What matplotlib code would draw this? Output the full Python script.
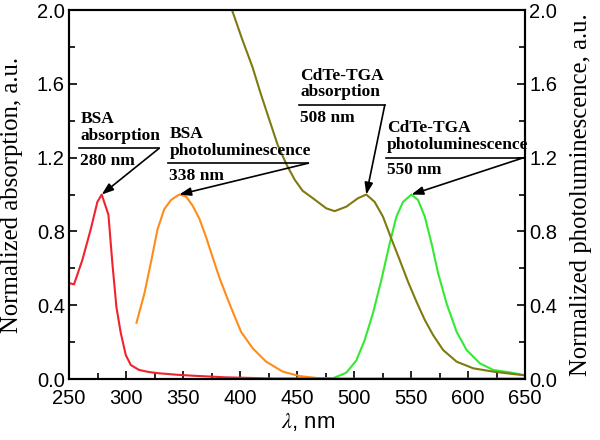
import numpy as np
import matplotlib
matplotlib.use('Agg')
import matplotlib.pyplot as plt

# BSA absorption (red)
bsa_abs_x = [250, 254.4, 261.7, 269, 274.9, 278.7, 284.6, 288, 291.6, 295.4, 299.8, 304.2, 311.5, 320, 329, 345, 358.4, 387.7, 429, 500, 560, 650]
bsa_abs_y = [0.52, 0.513, 0.645, 0.81, 0.96, 1.0, 0.89, 0.63, 0.39, 0.25, 0.13, 0.076, 0.049, 0.038, 0.031, 0.023, 0.018, 0.009, 0.003, 0.002, 0.002, 0.002]

# BSA photoluminescence (orange)
bsa_pl_x = [309.2, 316, 321.8, 327.6, 333.5, 339.4, 346.7, 352.6, 358.4, 364.3, 370.2, 376, 381.9, 387.8, 393.6, 400.9, 411.2, 422.9, 437.5, 452.2, 469.8, 490]
bsa_pl_y = [0.305, 0.46, 0.63, 0.81, 0.92, 0.97, 1.0, 0.99, 0.94, 0.87, 0.77, 0.66, 0.55, 0.455, 0.365, 0.256, 0.166, 0.094, 0.04, 0.016, 0.004, 0.0]

# CdTe-TGA absorption (olive)
cdte_abs_x = [393, 402, 411, 418, 426, 433, 441, 448, 455, 463.9, 475.7, 483, 493.2, 503.5, 510.8, 518.1, 525.4, 532.8, 540.1, 547.4, 554.8, 562.1, 569.4, 578.2, 590, 604.6, 622.2, 639.7, 650]
cdte_abs_y = [2.0, 1.84, 1.69, 1.55, 1.40, 1.27, 1.16, 1.08, 1.02, 0.98, 0.925, 0.91, 0.934, 0.98, 1.0, 0.96, 0.88, 0.76, 0.645, 0.527, 0.419, 0.32, 0.238, 0.157, 0.094, 0.058, 0.04, 0.027, 0.02]

# CdTe-TGA photoluminescence (green)
cdte_pl_x = [430, 469.8, 481.5, 493.2, 502, 509.3, 516.6, 524, 531.3, 537.2, 543, 550.4, 556.2, 562.1, 568, 573.8, 581.2, 590, 598.8, 610.4, 622.2, 636.8, 650]
cdte_pl_y = [0.0, 0.004, 0.004, 0.034, 0.10, 0.21, 0.356, 0.537, 0.735, 0.88, 0.96, 1.0, 0.97, 0.88, 0.735, 0.573, 0.41, 0.256, 0.157, 0.085, 0.049, 0.036, 0.02]

# annotations: lines above underline, line below, text left x, underline y, underline end x, peak
ann_top = [['BSA', 'absorption'], ['BSA', 'photoluminescence'],
           ['CdTe-TGA', 'absorption'], ['CdTe-TGA', 'photoluminescence']]
ann_bottom = ['280 nm', '338 nm', '508 nm', '550 nm']
ann_x0 = [259, 337, 452, 528]
ann_y = [1.25, 1.17, 1.485, 1.2]
ann_x1 = [329, 460, 527, 649]
ann_peak_x = [278.7, 346.7, 510.8, 550.4]
ann_peak_y = [1.0, 1.0, 1.0, 1.0]

plt.rcParams['mathtext.fontset'] = 'stix'

fig = plt.figure(figsize=(6, 4.4), dpi=100)
ax = fig.add_axes([0.115, 0.1386, 0.76, 0.8386])
ax2 = ax.twinx()

ax.plot(cdte_pl_x, cdte_pl_y, color='#33ea33', lw=1.5, zorder=2)
ax.plot(bsa_pl_x, bsa_pl_y, color='#ff8c1a', lw=1.5, zorder=2)
ax.plot(cdte_abs_x, cdte_abs_y, color='#7f7a10', lw=1.5, zorder=3)
ax.plot(bsa_abs_x, bsa_abs_y, color='#f2222c', lw=1.5, zorder=4)

for ax_ in (ax, ax2):
    ax_.set_ylim(0, 2.0)
    ax_.set_yticks([0.0, 0.4, 0.8, 1.2, 1.6, 2.0])
    ax_.set_yticks(np.arange(0.2, 2.0, 0.4), minor=True)
    ax_.tick_params(which='major', direction='in', length=6, width=1.2, labelsize=14.5)
    ax_.tick_params(which='minor', direction='in', length=4, width=1.2)
    ax_.yaxis.set_major_formatter(matplotlib.ticker.FormatStrFormatter('%.1f'))
    for lab in ax_.get_yticklabels():
        lab.set_family('Liberation Sans')
    for s in ax_.spines.values():
        s.set_linewidth(1.5)

ax.set_xlim(250, 650)
ax.set_xticks(range(250, 651, 50))
ax.set_xticks(range(275, 650, 50), minor=True)
ax.tick_params(axis='x', top=False, which='both', pad=7)
for lab in ax.get_xticklabels():
    lab.set_family('Liberation Sans')
ax.tick_params(axis='y', pad=3)
ax2.tick_params(axis='y', pad=3)

ax.set_ylabel('Normalized absorption, a.u.', family='Liberation Serif', fontsize=17.8)
ax.yaxis.set_label_coords(-0.1, 0.5)
ax2.set_ylabel('Normalized photoluminescence, a.u.', family='Liberation Serif', fontsize=17.8)
ax2.yaxis.set_label_coords(1.099, 0.5)
ax.set_xlabel(r'$\lambda$, nm', family='Liberation Sans', fontsize=16)
ax.xaxis.set_label_coords(0.524, -0.088)

for top, bot, x0, y, x1, px, py in zip(ann_top, ann_bottom, ann_x0, ann_y, ann_x1, ann_peak_x, ann_peak_y):
    ax.text(x0 + 1, y + 0.025, '\n'.join(top), family='Liberation Serif', fontweight='bold',
            fontsize=12.5, va='bottom', ha='left', linespacing=1.05, zorder=6)
    ax.text(x0 + 1, y - 0.025, bot, family='Liberation Serif', fontweight='bold',
            fontsize=12.5, va='top', ha='left', zorder=6)
    ax.plot([x0, x1], [y, y], color='black', lw=1.2, zorder=6, clip_on=False)
    ax.annotate('', xy=(px, py), xytext=(x1, y),
                arrowprops=dict(arrowstyle='-|>,head_length=0.7,head_width=0.25',
                                color='black', lw=1.2, shrinkA=0, shrinkB=0), zorder=6)

fig.savefig('out.png', dpi=100)
